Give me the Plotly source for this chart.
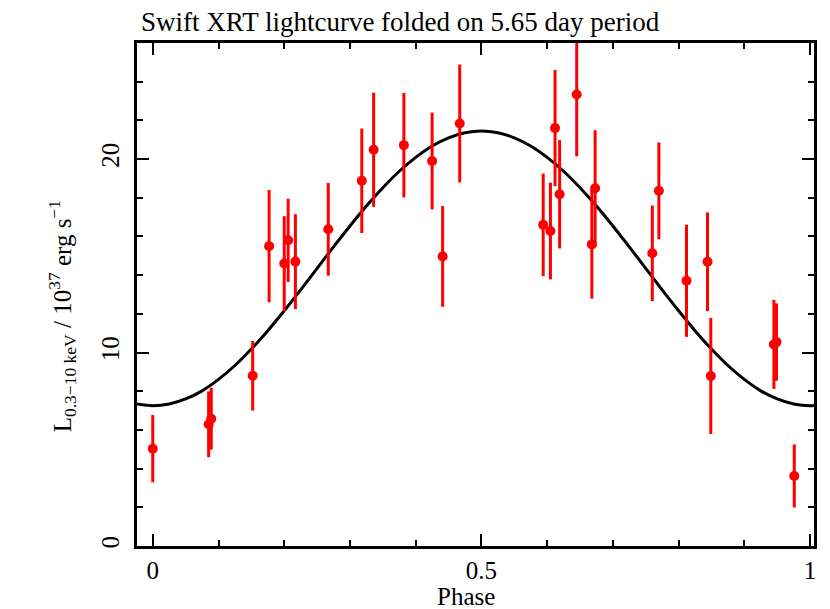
import plotly.graph_objects as go

# folded Swift XRT points (phase, luminosity / 1e37 erg/s, 1-sigma error)
phase = [0.000, 0.085, 0.089, 0.152, 0.177, 0.200, 0.206, 0.217, 0.267, 0.318,
         0.336, 0.382, 0.425, 0.441, 0.467, 0.594, 0.605, 0.612, 0.619, 0.645,
         0.668, 0.673, 0.760, 0.770, 0.812, 0.844, 0.849, 0.945, 0.949, 0.976]
lum = [5.03, 6.29, 6.58, 8.80, 15.50, 14.60, 15.80, 14.70, 16.37, 18.88,
       20.48, 20.72, 19.90, 14.97, 21.84, 16.60, 16.28, 21.60, 18.18, 23.34,
       15.59, 18.49, 15.13, 18.36, 13.71, 14.69, 8.79, 10.42, 10.54, 3.62]
lum_err = [1.74, 1.70, 1.60, 1.80, 2.90, 2.45, 2.15, 2.45, 2.40, 2.70,
           2.95, 2.70, 2.50, 2.60, 3.05, 2.65, 2.50, 3.00, 2.80, 3.20,
           2.80, 3.00, 2.47, 2.50, 2.90, 2.55, 3.00, 2.30, 2.00, 1.63]

# sinusoidal model curve (runs edge to edge)
model_phase = [-0.025, 0.000, 0.025, 0.050, 0.075, 0.100, 0.125, 0.150, 0.175, 0.200,
               0.225, 0.250, 0.275, 0.300, 0.325, 0.350, 0.375, 0.400, 0.425, 0.450,
               0.475, 0.500, 0.525, 0.550, 0.575, 0.600, 0.625, 0.650, 0.675, 0.700,
               0.725, 0.750, 0.775, 0.800, 0.825, 0.850, 0.875, 0.900, 0.925, 0.950,
               0.975, 1.000, 1.025]
model_lum = [7.34, 7.25, 7.34, 7.60, 8.02, 8.61, 9.33, 10.18, 11.13, 12.16,
             13.24, 14.35, 15.46, 16.54, 17.57, 18.52, 19.37, 20.09, 20.68, 21.10,
             21.36, 21.45, 21.36, 21.10, 20.68, 20.09, 19.37, 18.52, 17.57, 16.54,
             15.46, 14.35, 13.24, 12.16, 11.13, 10.18, 9.33, 8.61, 8.02, 7.60,
             7.34, 7.25, 7.34]

FONT = '"Liberation Serif", "Times New Roman", Times, serif'

fig = go.Figure()

fig.add_trace(go.Scatter(
    x=model_phase, y=model_lum, mode="lines",
    line=dict(color="black", width=3, shape="spline", smoothing=0.8),
    showlegend=False, hoverinfo="skip"))

fig.add_trace(go.Scatter(
    x=phase, y=lum, mode="markers",
    marker=dict(color="red", size=10),
    error_y=dict(type="data", array=lum_err, color="red", thickness=3, width=0),
    showlegend=False))

axis_common = dict(showline=True, linewidth=2.5, linecolor="black", mirror="ticks",
                   ticks="inside", ticklen=12, tickwidth=2, tickcolor="black",
                   showgrid=False, zeroline=False,
                   tickfont=dict(family=FONT, size=25, color="black"))

fig.update_xaxes(range=[-0.024, 1.006], tickvals=[0, 0.5, 1], ticktext=["0", "0.5", "1"],
                 minor=dict(dtick=0.1, tick0=0, ticks="inside", ticklen=6,
                            tickwidth=2, tickcolor="black", showgrid=False),
                 **axis_common)
fig.update_yaxes(range=[0, 26], tickvals=[0, 10, 20], tickangle=-90,
                 ticklabelstandoff=5,
                 minor=dict(dtick=2, tick0=0, ticks="inside", ticklen=6,
                            tickwidth=2, tickcolor="black", showgrid=False),
                 **axis_common)

fig.add_annotation(
    text="Phase", xref="paper", yref="paper", x=0.486, y=0, yanchor="middle",
    yshift=-50, showarrow=False, font=dict(family=FONT, size=25, color="black"))

fig.add_annotation(
    text="L<sub>0.3\u221210 keV</sub> / 10<sup>37</sup> erg s<sup>\u22121</sup>",
    xref="paper", yref="paper", x=-0.14, y=0.457, textangle=-90,
    showarrow=False, font=dict(family=FONT, size=25, color="black"))

fig.update_layout(
    width=822, height=601,
    margin=dict(l=129, r=16, t=35, b=63),
    plot_bgcolor="white", paper_bgcolor="white",
    title=dict(text="Swift XRT lightcurve folded on 5.65 day period",
               x=133 / 822, xanchor="left", xref="container",
               y=1 - 14 / 601, yanchor="middle", yref="container",
               font=dict(family=FONT, size=27, color="black")))

fig.write_html("out.html")
